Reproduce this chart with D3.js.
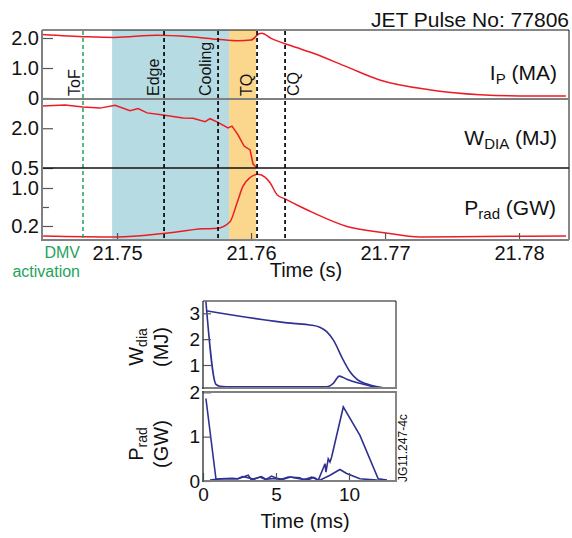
<!DOCTYPE html>
<html>
<head>
<meta charset="utf-8">
<script src="https://cdn.jsdelivr.net/npm/d3@7"></script>
<style>
body { margin: 0; background: #fff; }
svg { display: block; font-family: "Liberation Sans", Arial, Helvetica, sans-serif; }
</style>
</head>
<body>
<svg id="chart" width="572" height="538"></svg>
<script>
// ---- top figure: JET pulse 77806, time in s ----
const ipSeries = [[21.7444, 2.12], [21.7478, 2.04], [21.7498, 2.02], [21.7530, 2.09], [21.7555, 2.04],
    [21.7575, 1.96], [21.7590, 1.91], [21.7600, 1.93], [21.7606, 2.14], [21.7608, 2.16], [21.7615, 1.99],
    [21.7630, 1.74], [21.7646, 1.50], [21.7672, 1.03], [21.7696, 0.60], [21.7734, 0.27], [21.7771, 0.11],
    [21.7801, 0.07], [21.7835, 0.07]];
const wdiaSeries = [[21.7444, 2.84], [21.74612, 2.88], [21.74746, 2.80], [21.74873, 2.76], [21.74985, 2.87],
    [21.75097, 2.66], [21.75157, 2.74], [21.75224, 2.58], [21.75343, 2.50], [21.75493, 2.39], [21.75567, 2.38],
    [21.75657, 2.25], [21.75694, 2.36], [21.75746, 2.24], [21.75828, 2.01], [21.75858, 2.08], [21.75903, 1.75],
    [21.75948, 1.33], [21.75993, 1.18], [21.76015, 0.65], [21.76045, 0.50]];
const pradSeries = [[21.74448, -0.01], [21.75, -0.03], [21.75343, 0.04], [21.75642, 0.14], [21.75746, 0.15],
    [21.75843, 0.29], [21.75896, 0.69], [21.7594, 1.04], [21.75993, 1.22], [21.76052, 1.29], [21.76104, 1.23],
    [21.76142, 1.11], [21.76194, 0.86], [21.76254, 0.77], [21.76366, 0.61], [21.76463, 0.48], [21.76716, 0.19],
    [21.76993, 0.06], [21.77261, -0.03], [21.77709, -0.02], [21.78351, -0.01]];
const phaseSpans = [{ name: 'edge', from: 21.74963, to: 21.75836 }, { name: 'tq', from: 21.75836, to: 21.76037 }];
const markers = [{ label: 'ToF', t: 21.74746 }, { label: 'Edge', t: 21.75351 }, { label: 'Cooling', t: 21.75754 },
    { label: 'TQ', t: 21.76045 }, { label: 'CQ', t: 21.76254 }];
const timeTicks = [21.75, 21.76, 21.77, 21.78];
const ipTicks = [0, 1, 2];
const wdiaTicks = [0.5, 2.0];
const pradTicks = [0.2, 1.0];

// ---- bottom figure: time in ms ----
const wFast = [[0.2, 3.45], [0.89, 0.25], [1.16, 0.18], [2.0, 0.16], [8.47, 0.16], [8.92, 0.29], [9.34, 0.57],
    [9.84, 0.45], [10.75, 0.29], [11.66, 0.16], [12.47, 0.11]];
const wSlow = [[0.2, 3.10], [6.18, 2.61], [7.33, 2.55], [8.0, 2.46], [8.47, 2.29], [8.92, 1.97], [9.61, 1.19],
    [10.07, 0.74], [10.53, 0.45], [11.44, 0.23], [12.47, 0.11]];
const pFast = [[0.2, 1.86], [0.89, 0.04], [1.5, 0.05], [2.4, 0.05], [3.1, 0.13], [3.3, 0.03], [3.9, 0.09],
    [4.3, 0.03], [4.7, 0.11], [5.27, 0.03], [5.84, 0.09], [6.64, 0.07], [6.87, 0.02], [7.45, 0.09], [7.9, 0.02],
    [8.0, 0.02], [8.7, 0.13], [9.38, 0.26], [9.84, 0.17], [10.75, 0.05], [11.9, 0.02], [12.6, 0.01]];
const pSlow = [[0.48, 0.02], [1.2, 0.05], [2.0, 0.06], [2.4, 0.05], [2.7, 0.10], [3.0, 0.08], [3.5, 0.04],
    [4.0, 0.10], [4.3, 0.04], [5.0, 0.06], [5.5, 0.04], [6.0, 0.09], [6.6, 0.05], [7.2, 0.03], [7.6, 0.08],
    [7.9, 0.02], [8.36, 0.39], [8.42, 0.20], [8.58, 0.50], [8.7, 0.43], [8.81, 0.54], [9.61, 1.67], [10.75, 1.03],
    [12.0, 0.05], [12.6, 0.02]];
const msTicks = [0, 5, 10];
const wTicks = [1, 2, 3];
const pTicks = [0, 1, 2];

const RED = '#ec1c24', NAVY = '#2e3192', GREEN = '#1fa35b', GREY = '#808080';
const FONT = '"Liberation Sans", Arial, Helvetica, sans-serif';

const svg = d3.select('#chart');

// scales, top figure
const x = d3.scaleLinear().domain([21.7444, 21.78373]).range([42, 569]);
const yIp = d3.scaleLinear().domain([-0.033, 2.267]).range([99, 30]);
const yW = d3.scaleLinear().domain([0.5, 3.104]).range([168, 99]);
const yP = d3.scaleLinear().domain([-0.095, 1.421]).range([240, 168]);

// shaded phases
svg.append('g').selectAll('rect')
    .data(phaseSpans)
    .enter().append('rect')
    .attr('x', d => x(d.from))
    .attr('width', d => x(d.to) - x(d.from))
    .attr('y', 30)
    .attr('height', 210)
    .attr('fill', d => d.name === 'edge' ? '#b6dbe3' : '#fbd68d');

// traces
const lineOf = (sx, sy, curve) => d3.line().x(d => sx(d[0])).y(d => sy(d[1])).curve(curve);
svg.append('path').datum(ipSeries)
    .attr('d', lineOf(x, yIp, d3.curveMonotoneX))
    .attr('fill', 'none').attr('stroke', RED).attr('stroke-width', 1.5);
svg.append('path').datum(wdiaSeries)
    .attr('d', lineOf(x, yW, d3.curveLinear))
    .attr('fill', 'none').attr('stroke', RED).attr('stroke-width', 1.5);
svg.append('path').datum(pradSeries)
    .attr('d', lineOf(x, yP, d3.curveMonotoneX))
    .attr('fill', 'none').attr('stroke', RED).attr('stroke-width', 1.5);

// dashed event lines + labels
const labelDx = { ToF: -3, Edge: -5, Cooling: -7, TQ: -5, CQ: 14 };
const mk = svg.append('g');
mk.selectAll('line')
    .data(markers)
    .enter().append('line')
    .attr('x1', d => x(d.t)).attr('x2', d => x(d.t))
    .attr('y1', 31).attr('y2', 239)
    .attr('stroke', d => d.label === 'ToF' ? GREEN : '#111')
    .attr('stroke-width', d => d.label === 'ToF' ? 1.5 : 1.8)
    .attr('stroke-dasharray', '4,3');
mk.selectAll('text')
    .data(markers)
    .enter().append('text')
    .attr('transform', d => `translate(${x(d.t) + labelDx[d.label]},96) rotate(-90)`)
    .attr('font-size', 16)
    .attr('fill', '#111')
    .text(d => d.label);

// axes
function styleAxis(g, fs) {
    g.select('.domain').remove();
    g.attr('font-family', FONT).attr('font-size', fs);
    g.selectAll('line').attr('stroke', '#555').attr('stroke-width', 1.2);
    g.selectAll('text').attr('fill', '#111');
}
const f1 = d3.format('.1f');
svg.append('g').attr('transform', 'translate(42,0)')
    .call(d3.axisLeft(yIp).tickValues(ipTicks).tickFormat(v => v === 0 ? '0' : f1(v)).tickSize(-11).tickPadding(3))
    .call(g => styleAxis(g, 20));
svg.append('g').attr('transform', 'translate(42,0)')
    .call(d3.axisLeft(yW).tickValues(wdiaTicks).tickFormat(f1).tickSize(-11).tickPadding(3))
    .call(g => styleAxis(g, 20));
svg.append('g').attr('transform', 'translate(42,0)')
    .call(d3.axisLeft(yP).tickValues(pradTicks).tickFormat(f1).tickSize(-11).tickPadding(3))
    .call(g => styleAxis(g, 20));
svg.append('g').attr('transform', 'translate(42,0)')
    .call(d3.axisLeft(yP).tickValues([0.6]).tickFormat('').tickSize(-7))
    .call(g => styleAxis(g, 20));
svg.append('g').attr('transform', 'translate(0,240)')
    .call(d3.axisBottom(x).tickValues(timeTicks).tickFormat(d3.format('.2f')).tickSize(-7).tickPadding(6))
    .call(g => styleAxis(g, 20));

// frame
const fr = svg.append('g').attr('fill', 'none');
fr.append('line').attr('x1', 42).attr('x2', 569).attr('y1', 30).attr('y2', 30).attr('stroke', '#111');
fr.append('line').attr('x1', 569).attr('x2', 569).attr('y1', 30).attr('y2', 240).attr('stroke', '#111');
fr.append('line').attr('x1', 42).attr('x2', 569).attr('y1', 99).attr('y2', 99).attr('stroke', GREY).attr('stroke-width', 2);
fr.append('line').attr('x1', 42).attr('x2', 569).attr('y1', 168).attr('y2', 168).attr('stroke', '#111').attr('stroke-width', 1.5);
fr.append('line').attr('x1', 41).attr('x2', 569).attr('y1', 240).attr('y2', 240).attr('stroke', GREY).attr('stroke-width', 2);
fr.append('line').attr('x1', 42).attr('x2', 42).attr('y1', 30).attr('y2', 241).attr('stroke', GREY).attr('stroke-width', 2);

// panel labels
function subLabel(xr, y, main, sub, tail) {
    const t = svg.append('text').attr('x', xr).attr('y', y).attr('text-anchor', 'end')
        .attr('font-size', 21).attr('fill', '#111');
    t.append('tspan').text(main);
    t.append('tspan').attr('font-size', 15).attr('dy', 4).text(sub);
    t.append('tspan').attr('dy', -4).text(tail);
}
subLabel(557, 80, 'I', 'P', ' (MA)');
subLabel(557, 145, 'W', 'DIA', ' (MJ)');
subLabel(556, 215, 'P', 'rad', ' (GW)');

svg.append('text').attr('x', 569).attr('y', 27).attr('text-anchor', 'end')
    .attr('font-size', 21).attr('fill', '#111').text('JET Pulse No: 77806');
svg.append('text').attr('x', 306).attr('y', 277).attr('text-anchor', 'middle')
    .attr('font-size', 20).attr('fill', '#111').text('Time (s)');
svg.append('text').attr('x', 80).attr('y', 258).attr('text-anchor', 'end')
    .attr('font-size', 16).attr('fill', GREEN).text('DMV');
svg.append('text').attr('x', 80).attr('y', 277).attr('text-anchor', 'end')
    .attr('font-size', 16).attr('fill', GREEN).text('activation');

// ---- bottom figure ----
const xs = d3.scaleLinear().domain([0, 13.22]).range([203, 396]);
const yWs = d3.scaleLinear().domain([0.11, 3.476]).range([388, 301]);
const yPs = d3.scaleLinear().domain([0, 2.007]).range([481, 392]);

[wFast, wSlow].forEach(s => svg.append('path').datum(s)
    .attr('d', lineOf(xs, yWs, d3.curveMonotoneX))
    .attr('fill', 'none').attr('stroke', NAVY).attr('stroke-width', 1.6));
[pFast, pSlow].forEach(s => svg.append('path').datum(s)
    .attr('d', lineOf(xs, yPs, d3.curveLinear))
    .attr('fill', 'none').attr('stroke', NAVY).attr('stroke-width', 1.6));

svg.append('g').attr('transform', 'translate(203,0)')
    .call(d3.axisLeft(yWs).tickValues(wTicks).tickFormat(d3.format('d')).tickSize(-8).tickPadding(3))
    .call(g => styleAxis(g, 19));
svg.append('g').attr('transform', 'translate(203,0)')
    .call(d3.axisLeft(yPs).tickValues(pTicks).tickFormat(d3.format('d')).tickSize(-8).tickPadding(3))
    .call(g => styleAxis(g, 19));
svg.append('g').attr('transform', 'translate(0,481)')
    .call(d3.axisBottom(xs).tickValues(msTicks).tickFormat(d3.format('d')).tickSize(-8).tickPadding(7))
    .call(g => styleAxis(g, 19));

const fb = svg.append('g');
fb.append('line').attr('x1', 203).attr('x2', 396).attr('y1', 301).attr('y2', 301).attr('stroke', '#111');
fb.append('line').attr('x1', 396).attr('x2', 396).attr('y1', 301).attr('y2', 388).attr('stroke', '#111');
fb.append('line').attr('x1', 396).attr('x2', 396).attr('y1', 392).attr('y2', 481).attr('stroke', '#111');
fb.append('line').attr('x1', 202).attr('x2', 397).attr('y1', 388).attr('y2', 388).attr('stroke', GREY).attr('stroke-width', 2);
fb.append('line').attr('x1', 202).attr('x2', 397).attr('y1', 392).attr('y2', 392).attr('stroke', GREY).attr('stroke-width', 2);
fb.append('line').attr('x1', 202).attr('x2', 397).attr('y1', 481).attr('y2', 481).attr('stroke', GREY).attr('stroke-width', 2);
fb.append('line').attr('x1', 203).attr('x2', 203).attr('y1', 301).attr('y2', 389).attr('stroke', '#444').attr('stroke-width', 1.5);
fb.append('line').attr('x1', 203).attr('x2', 203).attr('y1', 391).attr('y2', 482).attr('stroke', '#444').attr('stroke-width', 1.5);

function rotLabel(cx, cy, main, sub, line2) {
    const t = svg.append('text').attr('transform', `translate(${cx},${cy}) rotate(-90)`)
        .attr('text-anchor', 'middle').attr('font-size', 20).attr('fill', '#111');
    t.append('tspan').text(main);
    t.append('tspan').attr('font-size', 14).attr('dy', 4).text(sub);
    svg.append('text').attr('transform', `translate(${cx + 25},${cy}) rotate(-90)`)
        .attr('text-anchor', 'middle').attr('font-size', 20).attr('fill', '#111').text(line2);
}
rotLabel(143, 347, 'W', 'dia', '(MJ)');
rotLabel(143, 444, 'P', 'rad', '(GW)');

svg.append('text').attr('x', 305).attr('y', 528).attr('text-anchor', 'middle')
    .attr('font-size', 20).attr('fill', '#111').text('Time (ms)');
svg.append('text').attr('transform', 'translate(407,482) rotate(-90)')
    .attr('font-size', 12).attr('fill', '#111').text('JG11.247-4c');
</script>
</body>
</html>
